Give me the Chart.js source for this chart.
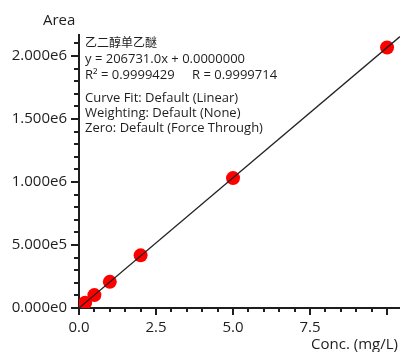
<!DOCTYPE html>
<html>
<head>
<meta charset="utf-8">
<script src="https://cdn.jsdelivr.net/npm/chart.js@4"></script>
<style>
  html, body { margin: 0; padding: 0; background: #fff; }
</style>
</head>
<body>
<canvas id="calChart" width="400" height="352"></canvas>
<script>
// calibration points
const concValues = [0.1, 0.2, 0.5, 1.0, 2.0, 5.0, 10.0];
const areaValues = [20600, 41500, 102500, 207500, 418000, 1031000, 2067800];

// fitted line end points (y = 206731.0x + 0)
const fitLineX = [0, 10.42];
const fitLineY = [0, 2154137];

// tick positions (minor + major) and the labels of the major ones
const xTickValues = [0, 0.5, 1, 1.5, 2, 2.5, 3, 3.5, 4, 4.5, 5, 5.5, 6, 6.5, 7, 7.5, 8, 8.5, 9, 9.5, 10];
const yTickValues = [0, 1e5, 2e5, 3e5, 4e5, 5e5, 6e5, 7e5, 8e5, 9e5, 1e6,
    1.1e6, 1.2e6, 1.3e6, 1.4e6, 1.5e6, 1.6e6, 1.7e6, 1.8e6, 1.9e6, 2e6, 2.1e6];
const xTickLabels = ["0.0", "2.5", "5.0", "7.5"];
const yTickLabels = ["0.000e0", "5.000e5", "1.000e6", "1.500e6", "2.000e6"];

const yTitle = "Area";
const xTitle = "Conc. (mg/L)";
const compoundName = "乙二醇单乙醚";
const infoLines = [
    "y = 206731.0x + 0.0000000",
    "R² = 0.9999429",
    "R = 0.9999714",
    "Curve Fit: Default (Linear)",
    "Weighting: Default (None)",
    "Zero: Default (Force Through)"
];

const FONT = "'Open Sans', 'Noto Sans', sans-serif";
const INK = "#1e1e1e";

function isMultiple(v, step) {
    const r = v / step;
    return Math.abs(r - Math.round(r)) < 1e-6;
}

// major/minor tick marks, drawn from the scales' own ticks
const tickMarks = {
    id: "tickMarks",
    beforeDatasetsDraw(chart) {
        const { ctx, chartArea, scales: { x, y } } = chart;
        ctx.save();
        ctx.strokeStyle = INK;
        ctx.lineWidth = 2;
        x.ticks.forEach(t => {
            const px = Math.round(x.getPixelForValue(t.value));
            const len = isMultiple(t.value, 2.5) ? 7 : 4;
            ctx.beginPath();
            ctx.moveTo(px, chartArea.bottom);
            ctx.lineTo(px, chartArea.bottom + len);
            ctx.stroke();
        });
        y.ticks.forEach(t => {
            const py = Math.round(y.getPixelForValue(t.value));
            const len = isMultiple(t.value, 500000) ? 8 : 5;
            ctx.beginPath();
            ctx.moveTo(chartArea.left, py);
            ctx.lineTo(chartArea.left - len, py);
            ctx.stroke();
        });
        ctx.restore();
    }
};

// axis titles and the fit summary text
const chartTexts = {
    id: "chartTexts",
    afterDraw(chart) {
        const { ctx } = chart;
        ctx.save();
        ctx.fillStyle = INK;
        ctx.textBaseline = "alphabetic";

        ctx.font = "15px " + FONT;
        ctx.textAlign = "left";
        ctx.fillText(yTitle, 43, 25);
        ctx.textAlign = "right";
        ctx.fillText(xTitle, 398, 349);

        ctx.textAlign = "left";
        ctx.font = "12px 'Noto Sans CJK SC', sans-serif";
        ctx.fillText(compoundName, 85, 47);

        ctx.font = "13px " + FONT;
        ctx.fillText(infoLines[0], 85, 63);
        ctx.fillText(infoLines[1], 85, 79);
        ctx.fillText(infoLines[2], 192, 79);
        ctx.fillText(infoLines[3], 85, 102);
        ctx.fillText(infoLines[4], 85, 117);
        ctx.fillText(infoLines[5], 85, 132);
        ctx.restore();
    }
};

const ctx = document.getElementById("calChart").getContext("2d");

new Chart(ctx, {
    type: "scatter",
    data: {
        datasets: [
            {
                type: "line",
                label: "Fit",
                data: fitLineX.map((v, i) => ({ x: v, y: fitLineY[i] })),
                borderColor: "#222",
                borderWidth: 1.3,
                pointRadius: 0,
                fill: false,
                order: 0
            },
            {
                label: "Standards",
                data: concValues.map((v, i) => ({ x: v, y: areaValues[i] })),
                backgroundColor: "#ff0000",
                borderWidth: 0,
                pointRadius: 7,
                pointHoverRadius: 7,
                order: 1
            }
        ]
    },
    options: {
        responsive: false,
        animation: false,
        devicePixelRatio: 1,
        layout: { autoPadding: false, padding: { top: 35, right: 0, left: 0, bottom: 0 } },
        plugins: {
            legend: { display: false },
            tooltip: { enabled: false }
        },
        scales: {
            x: {
                type: "linear",
                min: 0,
                max: 10.42,
                afterBuildTicks: scale => { scale.ticks = xTickValues.map(v => ({ value: v })); },
                afterFit: scale => {
                    scale.height = 44;
                    scale.paddingLeft = 0;
                    scale.paddingRight = 0;
                },
                border: { display: true, color: INK, width: 2 },
                grid: { display: true, drawOnChartArea: false, tickLength: 8, tickColor: "rgba(0,0,0,0)" },
                ticks: {
                    autoSkip: false,
                    maxRotation: 0,
                    padding: 3,
                    color: INK,
                    font: { family: FONT, size: 15 },
                    callback: function (value) {
                        if (!isMultiple(value, 2.5)) return "";
                        return xTickLabels[Math.round(value / 2.5)] || "";
                    }
                }
            },
            y: {
                type: "linear",
                min: 0,
                max: 2167000,
                afterBuildTicks: scale => { scale.ticks = yTickValues.map(v => ({ value: v })); },
                afterFit: scale => {
                    scale.width = 79;
                    scale.paddingTop = 0;
                    scale.paddingBottom = 0;
                },
                border: { display: true, color: INK, width: 2 },
                grid: { display: true, drawOnChartArea: false, tickLength: 8, tickColor: "rgba(0,0,0,0)" },
                ticks: {
                    autoSkip: false,
                    padding: 4,
                    color: INK,
                    font: { family: FONT, size: 15 },
                    callback: function (value) {
                        if (!isMultiple(value, 500000)) return "";
                        return yTickLabels[Math.round(value / 500000)] || "";
                    }
                }
            }
        }
    },
    plugins: [tickMarks, chartTexts]
});
</script>
</body>
</html>
